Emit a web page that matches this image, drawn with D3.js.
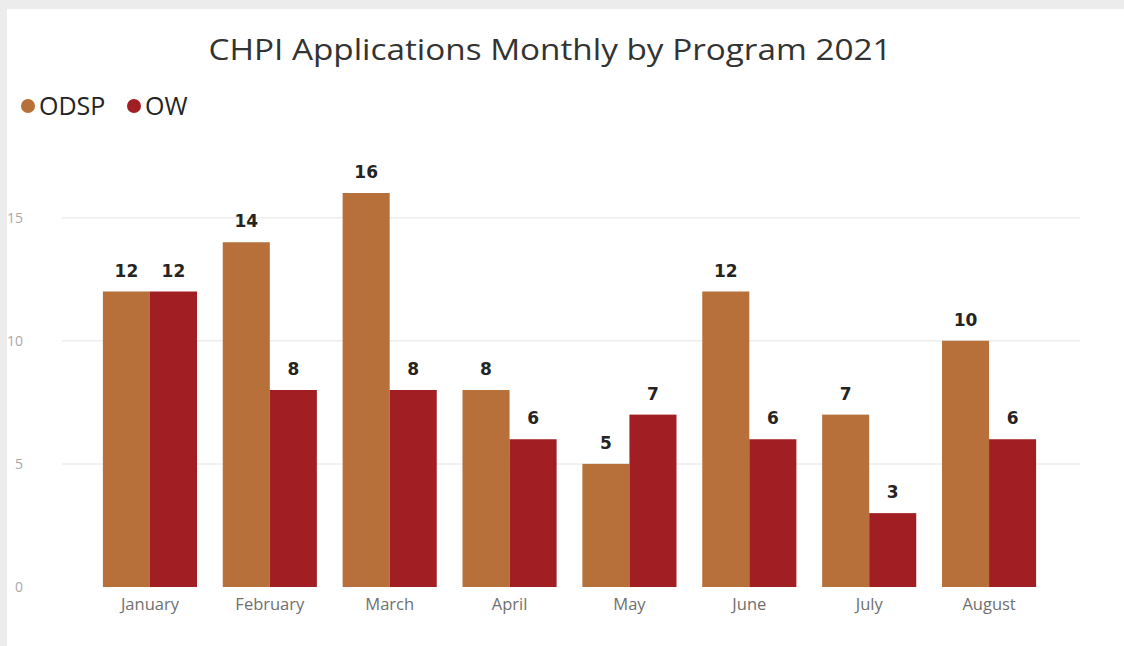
<!DOCTYPE html>
<html>
<head>
<meta charset="utf-8">
<script src="https://cdn.jsdelivr.net/npm/d3@7"></script>
<style>
  body { margin:0; background:#ececec; }
  svg { display:block; }
</style>
</head>
<body>
<div id="chart"></div>
<script>
// data
let months = ["January","February","March","April","May","June","July","August"]
let seriesNames = ["ODSP","OW"]
let odsp = [12,14,16,8,5,12,7,10]
let ow = [12,8,8,6,7,6,3,6]
let yTicks = [0,5,10,15]
let colors = ["#B8703A","#A11E22"]

let svgWidth = 1124
let svgHeight = 646

let svg = d3.select("#chart")
  .append("svg")
  .attr("width", svgWidth)
  .attr("height", svgHeight)

// white panel
svg.append("rect")
  .attr("x", 7).attr("y", 9)
  .attr("width", svgWidth - 7).attr("height", svgHeight - 9)
  .attr("fill", "#ffffff")

let xScale = d3.scaleBand()
  .domain(months)
  .range([90, 1049])
  .paddingInner(0.215)
  .paddingOuter(0.1075)

let xSub = d3.scaleBand()
  .domain(seriesNames)
  .range([0, xScale.bandwidth()])

let yScale = d3.scaleLinear()
  .domain([0, 16])
  .range([587, 193])

// gridlines
svg.append("g")
  .selectAll("line")
  .data(yTicks.filter(d => d > 0))
  .enter()
  .append("line")
  .attr("x1", 62).attr("x2", 1080)
  .attr("y1", d => yScale(d)).attr("y2", d => yScale(d))
  .attr("stroke", "#eeeeee")
  .attr("stroke-width", 1.5)

// y axis labels
let yAxis = d3.axisLeft(yScale).tickValues(yTicks).tickSize(0).tickPadding(0)
let yg = svg.append("g")
  .attr("transform", "translate(23,0)")
  .call(yAxis)
yg.select(".domain").remove()
yg.selectAll("text")
  .attr("fill", "#a8a8a8")
  .style("font-family", "'Open Sans', sans-serif")
  .style("font-size", "14px")

// bars
let rows = months.map((m, i) => ({month: m, values: [odsp[i], ow[i]]}))
let groups = svg.append("g")
  .selectAll("g")
  .data(rows)
  .enter()
  .append("g")
  .attr("transform", d => `translate(${xScale(d.month)},0)`)

groups.selectAll("rect")
  .data(d => d.values.map((v, j) => ({name: seriesNames[j], value: v, j: j})))
  .enter()
  .append("rect")
  .attr("x", d => xSub(d.name))
  .attr("y", d => yScale(d.value))
  .attr("width", xSub.bandwidth())
  .attr("height", d => yScale(0) - yScale(d.value))
  .attr("fill", d => colors[d.j])

// data labels
groups.selectAll("text")
  .data(d => d.values.map((v, j) => ({name: seriesNames[j], value: v})))
  .enter()
  .append("text")
  .attr("x", d => xSub(d.name) + xSub.bandwidth() / 2)
  .attr("y", d => yScale(d.value) - 15)
  .attr("text-anchor", "middle")
  .attr("fill", "#252423")
  .style("font-family", "'DejaVu Sans', sans-serif")
  .style("font-weight", "bold")
  .style("font-size", "17px")
  .text(d => d.value)

// x axis
let xAxis = d3.axisBottom(xScale).tickSize(0).tickPadding(0)
let xg = svg.append("g")
  .attr("transform", "translate(0,598)")
  .call(xAxis)
xg.select(".domain").remove()
xg.selectAll("text")
  .attr("fill", "#707070")
  .style("font-family", "'Open Sans', sans-serif")
  .style("font-size", "16.5px")

// title
svg.append("text")
  .attr("x", 550)
  .attr("y", 60)
  .attr("text-anchor", "middle")
  .attr("fill", "#333333")
  .attr("textLength", 683)
  .attr("lengthAdjust", "spacingAndGlyphs")
  .style("font-family", "'Open Sans', sans-serif")
  .style("font-size", "30px")
  .text("CHPI Applications Monthly by Program 2021")

// legend
let legend = svg.append("g")
  .selectAll("g")
  .data(seriesNames)
  .enter()
  .append("g")
  .attr("transform", (d, i) => `translate(${[28, 134][i]},106)`)
legend.append("circle")
  .attr("r", 7)
  .attr("fill", (d, i) => colors[i])
legend.append("text")
  .attr("x", 11)
  .attr("y", 9)
  .attr("fill", "#252423")
  .style("font-family", "'Open Sans', sans-serif")
  .style("font-size", "25px")
  .text(d => d)
</script>
</body>
</html>
